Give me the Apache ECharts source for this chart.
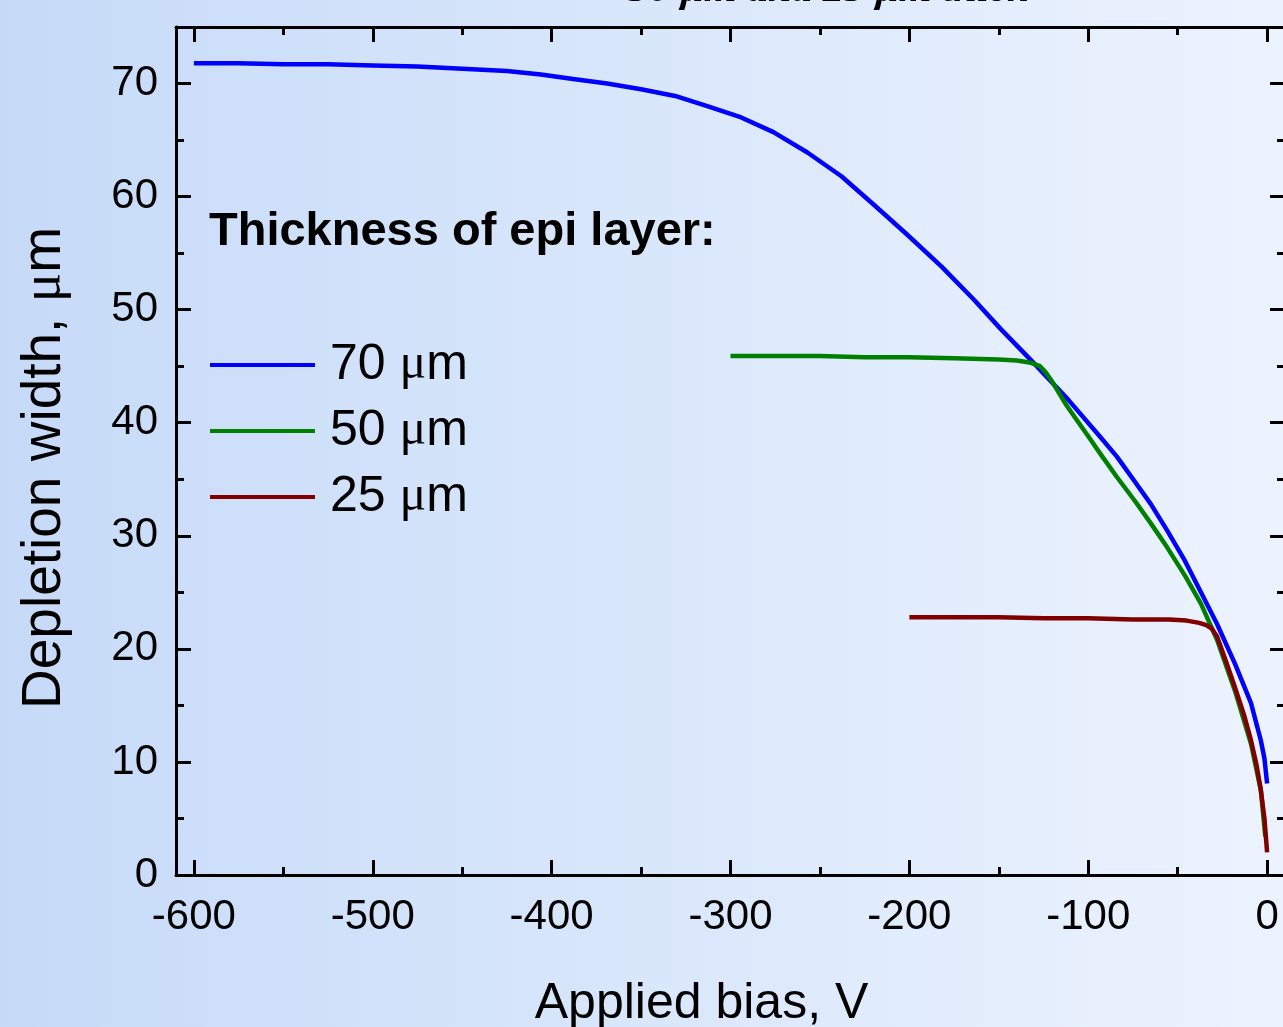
<!DOCTYPE html>
<html>
<head>
<meta charset="utf-8">
<script src="https://cdn.jsdelivr.net/npm/echarts@6/dist/echarts.min.js"></script>
<style>
  html, body { margin: 0; padding: 0; }
  #chart { width: 1283px; height: 1027px; background: linear-gradient(to right, #c6daf8 0%, #d9e7fb 50%, #edf3fe 100%); }
</style>
</head>
<body>
<div id="chart"></div>
<script>
// ---- data ----
const seriesNames = ['70 \u03bcm', '50 \u03bcm', '25 \u03bcm'];

const bias70 = [-600, -575, -550, -525, -500, -475, -450, -425, -406, -388, -369, -350, -331, -313, -294, -276, -257, -238, -220, -201, -182, -164, -149, -130, -111, -93, -84, -74, -65, -56, -46, -37, -28, -18, -9, -3.5, -1.5, 0];
const depth70 = [71.8, 71.8, 71.7, 71.7, 71.6, 71.5, 71.3, 71.1, 70.8, 70.4, 70.0, 69.5, 68.9, 68.0, 67.0, 65.7, 63.9, 61.8, 59.3, 56.6, 53.8, 50.9, 48.3, 45.2, 42.0, 38.7, 37.0, 34.8, 32.8, 30.5, 27.8, 25.0, 22.2, 18.7, 15.2, 11.9, 10.3, 8.1];

const bias50 = [-300, -275, -250, -225, -200, -175, -150, -140, -132, -127, -124, -120, -117, -112, -108, -100, -93, -84, -74, -65, -56, -46, -37, -28, -18, -9, -3.5, -1];
const depth50 = [45.9, 45.9, 45.9, 45.8, 45.8, 45.7, 45.6, 45.5, 45.3, 45.0, 44.5, 43.6, 42.8, 41.5, 40.6, 38.8, 37.2, 35.2, 33.1, 31.1, 29.0, 26.5, 24.0, 20.8, 16.3, 11.6, 7.5, 3.4];

const bias25 = [-200, -175, -150, -125, -100, -75, -55, -45, -38, -34, -31, -28, -23, -18, -13, -9, -6, -3.5, -1.5, 0];
const depth25 = [22.8, 22.8, 22.8, 22.7, 22.7, 22.6, 22.6, 22.5, 22.3, 22.1, 21.8, 21.1, 18.9, 16.6, 14.2, 11.9, 9.8, 7.5, 5.0, 2.0];

const xTickValues = [-600, -500, -400, -300, -200, -100, 0];
const yTickValues = [0, 10, 20, 30, 40, 50, 60, 70];

const legendTitle = 'Thickness of epi layer:';
const topText = '50 \u03bcm and 25 \u03bcm thick';
const xName = 'Applied bias, V';
const yName = 'Depletion width, \u03bcm';

// ---- chart ----
const FONT = "'Liberation Sans', Arial, sans-serif";
const SERIF = "'Liberation Serif', 'Times New Roman', serif";
const pairs = (xs, ys) => xs.map((x, i) => [x, ys[i]]);
const muRich = s => s.replace('\u03bc', '{mu|\u03bc}');

function valAxis(extra) {
  return Object.assign({
    type: 'value',
    scale: false,
    splitLine: { show: false },
    axisLine: { show: true, onZero: false, lineStyle: { color: '#000', width: 3 } },
    axisTick: { show: true, inside: true, length: 15, lineStyle: { color: '#000', width: 3 } },
    axisLabel: { show: false },
    minorTick: { show: false },
    splitArea: { show: false }
  }, extra);
}
function minorAxis(extra) {
  return valAxis(Object.assign({
    axisLine: { show: false, onZero: false },
    axisTick: { show: true, inside: true, length: 8, lineStyle: { color: '#000', width: 3 } }
  }, extra));
}

const xr = { min: -610, max: 10 };
const yr = { min: 0, max: 75 };

const chart = echarts.init(document.getElementById('chart'), null, { renderer: 'canvas' });
chart.setOption({
  animation: false,
  backgroundColor: 'transparent',
  title: [
    {
      text: legendTitle, left: 209, top: 209, padding: 0,
      textStyle: { fontFamily: FONT, fontSize: 47, fontWeight: 'bold', color: '#000' }
    },
    {
      text: topText, left: 628, top: -31, padding: 0,
      textStyle: { fontFamily: SERIF, fontSize: 42, fontWeight: 'bold', fontStyle: 'italic', color: '#000' }
    }
  ],
  legend: {
    orient: 'vertical', left: 210, top: 340, padding: 0,
    icon: 'rect', itemWidth: 105, itemHeight: 4, itemGap: 16,
    data: seriesNames,
    formatter: name => muRich(name),
    textStyle: {
      fontFamily: FONT, fontSize: 50, color: '#000', padding: [0, 0, 0, 10],
      rich: { mu: { fontFamily: SERIF, fontSize: 50, color: '#000' } }
    }
  },
  grid: { left: 176, top: 27, right: -2, bottom: 152, containLabel: false, outerBoundsMode: 'none' },
  xAxis: [
    valAxis(Object.assign({
      position: 'bottom', splitNumber: 6, minInterval: 100, maxInterval: 100,
      axisLabel: {
        show: true, margin: 21, fontFamily: FONT, fontSize: 42, color: '#000',
        showMinLabel: true, showMaxLabel: true, hideOverlap: false,
        formatter: v => (xTickValues.indexOf(v) >= 0 ? String(v) : '')
      },
      name: xName, nameLocation: 'middle', nameGap: 104,
      nameTextStyle: { fontFamily: FONT, fontSize: 50, color: '#000', padding: [0, 58, 0, 0] }
    }, xr)),
    minorAxis(Object.assign({ position: 'bottom', splitNumber: 12, minInterval: 50, maxInterval: 50 }, xr)),
    valAxis(Object.assign({ position: 'top', splitNumber: 6, minInterval: 100, maxInterval: 100 }, xr)),
    minorAxis(Object.assign({ position: 'top', splitNumber: 12, minInterval: 50, maxInterval: 50 }, xr))
  ],
  yAxis: [
    valAxis(Object.assign({
      position: 'left', splitNumber: 7, minInterval: 10, maxInterval: 10,
      axisLabel: {
        show: true, margin: 18, fontFamily: FONT, fontSize: 42, color: '#000',
        showMinLabel: true, showMaxLabel: true, hideOverlap: false,
        formatter: v => (yTickValues.indexOf(v) >= 0 ? String(v) : '')
      },
      name: muRich(yName), nameLocation: 'middle', nameGap: 104,
      nameTextStyle: {
        fontFamily: FONT, fontSize: 55, color: '#000', padding: [0, 34, 0, 0],
        rich: { mu: { fontFamily: SERIF, fontSize: 55, color: '#000' } }
      }
    }, yr)),
    minorAxis(Object.assign({ position: 'left', splitNumber: 15, minInterval: 5, maxInterval: 5 }, yr)),
    valAxis(Object.assign({ position: 'right', splitNumber: 7, minInterval: 10, maxInterval: 10 }, yr)),
    minorAxis(Object.assign({ position: 'right', splitNumber: 15, minInterval: 5, maxInterval: 5 }, yr))
  ],
  series: [
    { name: seriesNames[0], type: 'line', data: pairs(bias70, depth70), color: '#0000ff' },
    { name: seriesNames[1], type: 'line', data: pairs(bias50, depth50), color: '#008000' },
    { name: seriesNames[2], type: 'line', data: pairs(bias25, depth25), color: '#800000' }
  ].map(s => Object.assign(s, {
    xAxisIndex: 0, yAxisIndex: 0, showSymbol: false, symbol: 'none',
    smooth: false, clip: true,
    lineStyle: { width: 4.5, color: s.color, join: 'round', cap: 'butt' }, itemStyle: { color: s.color },
    emphasis: { disabled: true }
  }))
});
</script>
</body>
</html>
